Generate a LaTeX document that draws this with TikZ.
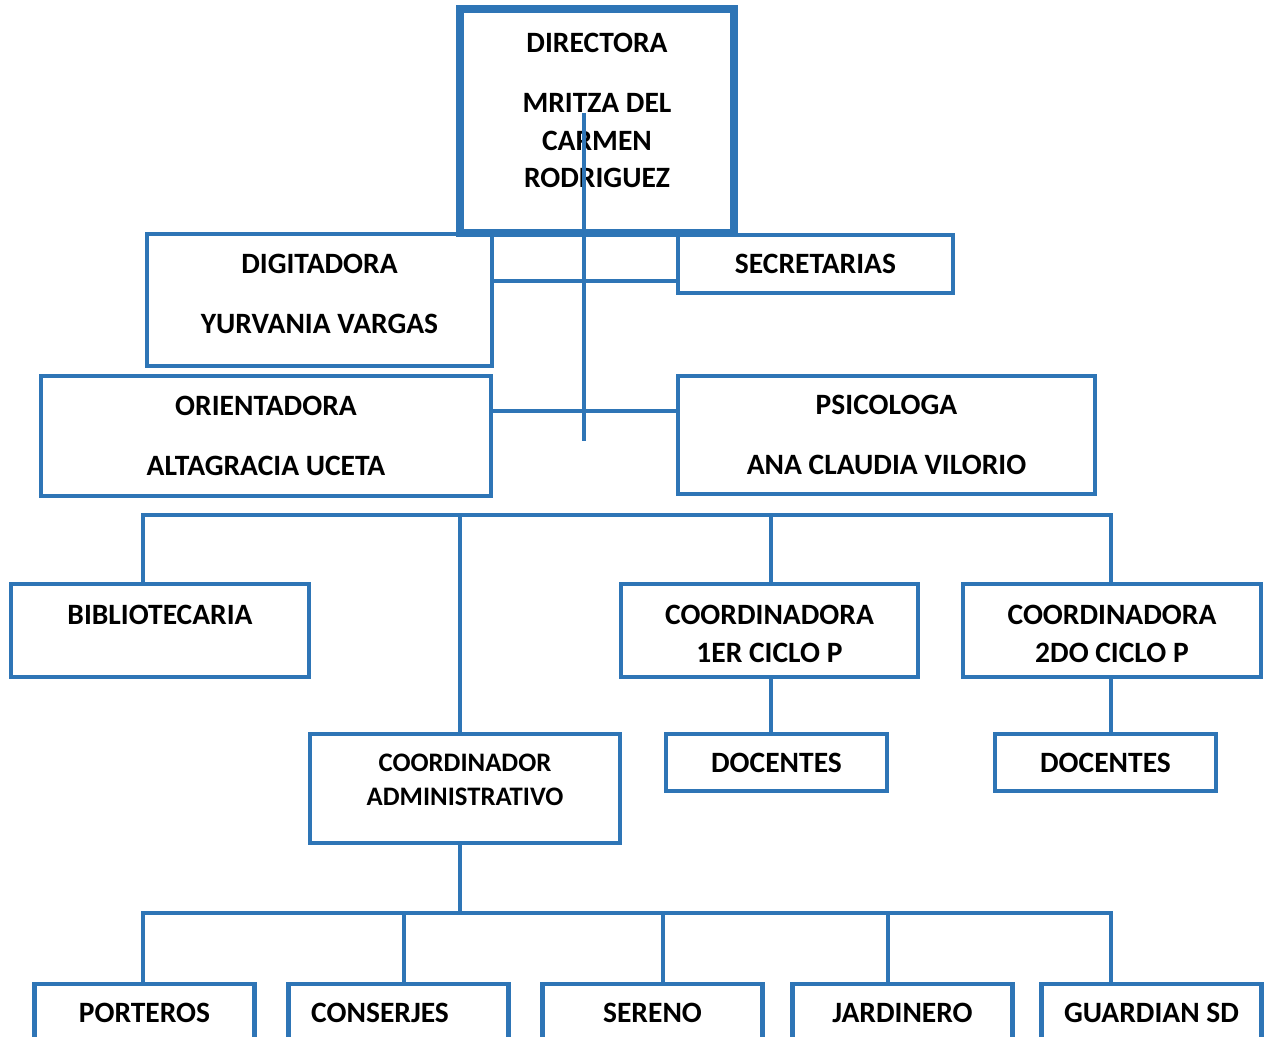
\documentclass[tikz,border=0pt]{standalone}
\usepackage{fontspec}
\setmainfont{Carlito}
\usepackage{tikz}
\definecolor{orgblue}{RGB}{46,117,182}

\begin{document}
\begin{tikzpicture}[x=0.02cm, y=-0.02cm,
    box/.style={draw=orgblue, line width=2.5pt, align=center, inner sep=0pt,
        font=\bfseries\fontsize{16.8}{21.5}\selectfont},
    link/.style={draw=orgblue, line width=2pt}]
    \useasboundingbox (0,0) rectangle (1269,1037);
    \clip (0,0) rectangle (1269,1037);

    % top levels
    \node[box, line width=4.2pt, minimum width=5.48cm, minimum height=4.48cm] (dir) at (597,121) {DIRECTORA\\[12.5pt] MRITZA DEL\\ CARMEN\\ RODRIGUEZ\\[-9.5pt]\mbox{}}; % Directora
    \node[box, minimum width=6.9cm, minimum height=2.64cm] (digi) at (319.5,300) {DIGITADORA\\[12.5pt] YURVANIA VARGAS\\[-14.7pt]\mbox{}}; % Digitadora
    \node[box, minimum width=5.5cm, minimum height=1.16cm] (secr) at (815.5,264) {SECRETARIAS}; % Secretarias
    \node[box, minimum width=9cm, minimum height=2.4cm] (orie) at (266,436) {ORIENTADORA\\[12.5pt] ALTAGRACIA UCETA}; % Orientadora
    \node[box, minimum width=8.34cm, minimum height=2.36cm] (psic) at (886.5,435) {PSICOLOGA\\[12.5pt] ANA CLAUDIA VILORIO}; % Psicologa

    % middle levels
    \node[box, minimum width=5.96cm, minimum height=1.86cm] (bibl) at (160,630.5) {BIBLIOTECARIA\\[-4pt]\mbox{}}; % Bibliotecaria
    \node[box, minimum width=5.94cm, minimum height=1.86cm] (coor1) at (769.5,630.5) {\rule{0pt}{15pt}COORDINADORA\\ 1ER CICLO P}; % 1er ciclo
    \node[box, minimum width=5.96cm, minimum height=1.86cm] (coor2) at (1112,630.5) {\rule{0pt}{15pt}COORDINADORA\\ 2DO CICLO P}; % 2do ciclo
    \node[box, font=\bfseries\fontsize{15.2}{19.3}\selectfont, minimum width=6.2cm, minimum height=2.18cm] (admin) at (465,788.5) {COORDINADOR\\ ADMINISTRATIVO\\[-9.7pt]\mbox{}}; % Coordinador adm.
    \node[box, minimum width=4.42cm, minimum height=1.14cm] (doc1) at (776.5,762.5) {DOCENTES}; % Docentes 1
    \node[box, minimum width=4.42cm, minimum height=1.14cm] (doc2) at (1105.5,762.5) {DOCENTES}; % Docentes 2

    % staff
    \foreach \n/\x/\t in {port/144.5/PORTEROS, cons/398.5/{CONSERJES\rule{21pt}{0pt}}, sere/652.5/SERENO, jard/902.5/JARDINERO, guar/1151.5/GUARDIAN SD}
        \node[box, minimum width=4.4cm, minimum height=1.16cm] (\n) at (\x,1013) {\t};

    % connectors
    \coordinate (vtop) at (584,113);
    \coordinate (vbot) at (584,441);
    \draw[link] (vtop) -- (vbot); % central line
    \draw[link] (digi.east |- 584,281) -- (secr.west |- 584,281); % Digitadora - Secretarias
    \draw[link] (orie.east |- 584,411) -- (psic.west |- 584,411); % Orientadora - Psicologa

    \coordinate (busL) at (143,515);
    \coordinate (busR) at (1111,515);
    \draw[link] (bibl.north -| busL) -- (busL) -- (busR) -- (coor2.north -| busR); % upper bus
    \draw[link] (460,515) -- (admin.north -| 460,515);
    \draw[link] (771,515) -- (coor1.north -| 771,515);
    \draw[link] (coor1.south -| 771,0) -- (doc1.north -| 771,0);
    \draw[link] (coor2.south -| 1111,0) -- (doc2.north -| 1111,0);

    \coordinate (lowL) at (143,913);
    \coordinate (lowR) at (1111,913);
    \draw[link] (admin.south -| 460,0) -- (460,913);
    \draw[link] (port.north -| lowL) -- (lowL) -- (lowR) -- (guar.north -| lowR); % lower bus
    \foreach \n/\x in {cons/404, sere/663, jard/888}
        \draw[link] (\x,913) -- (\n.north -| \x,913);

\end{tikzpicture}
\end{document}
